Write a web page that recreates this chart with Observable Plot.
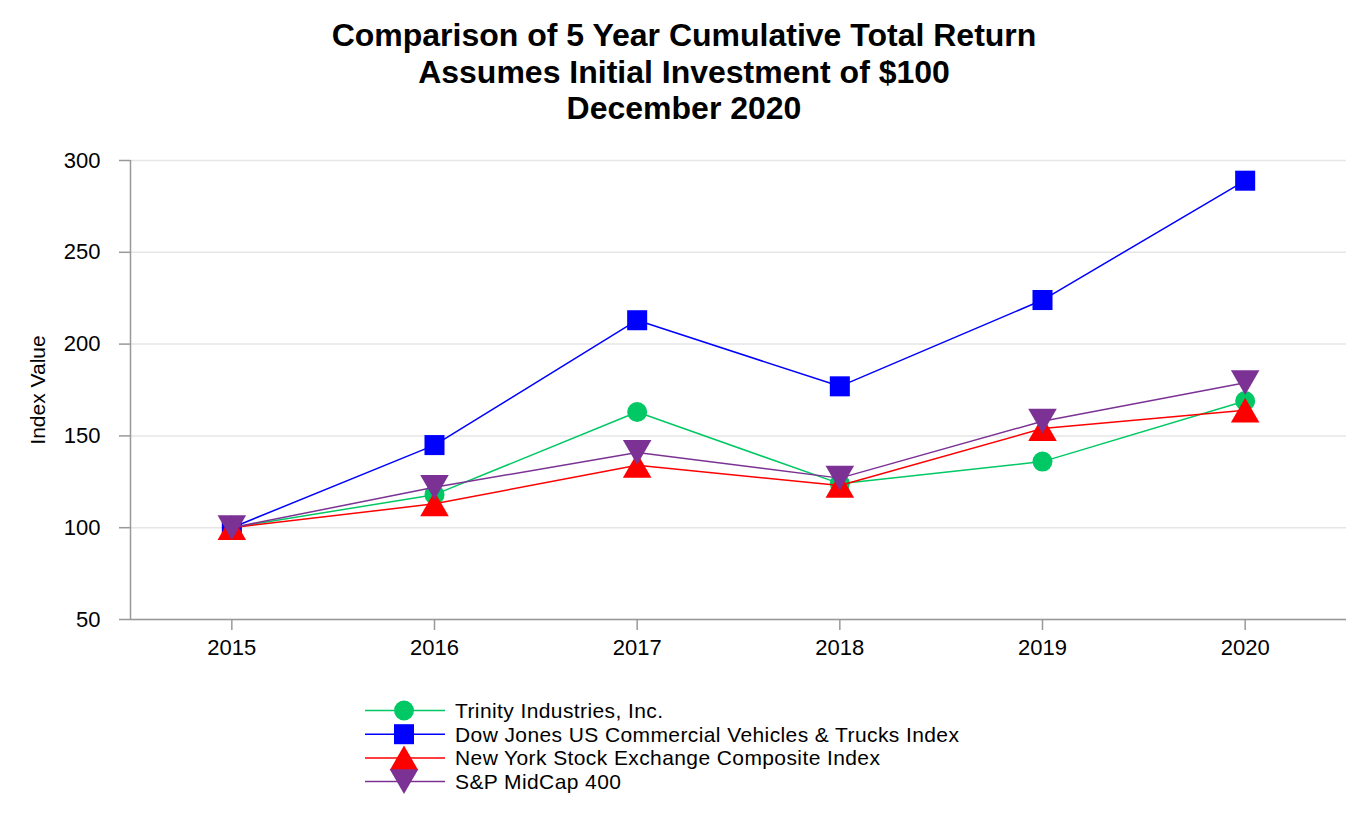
<!DOCTYPE html>
<html>
<head>
<meta charset="utf-8">
<script src="https://cdn.jsdelivr.net/npm/d3@7"></script>
<script src="https://cdn.jsdelivr.net/npm/@observablehq/plot@0.6"></script>
<style>
  html, body { margin: 0; padding: 0; background: #fff; }
  body { width: 1368px; height: 820px; overflow: hidden; font-family: "Liberation Sans", Arial, sans-serif; color: #000; }
  #title { height: 140px; box-sizing: border-box; padding-top: 17px; text-align: center; font-weight: bold; font-size: 32px; line-height: 36.5px; }
  #chart svg { display: block; }
  #legend svg { display: block; }
</style>
</head>
<body>
<div id="title"></div>
<div id="chart"></div>
<div id="legend"></div>
<script>
// ---------- data ----------
const titleLines = ["Comparison of 5 Year Cumulative Total Return", "Assumes Initial Investment of $100", "December 2020"];
const years = [2015, 2016, 2017, 2018, 2019, 2020];
const seriesNames = [
  "Trinity Industries, Inc.",
  "Dow Jones US Commercial Vehicles & Trucks Index",
  "New York Stock Exchange Composite Index",
  "S&P MidCap 400"
];
const trinity  = [100, 118, 163, 124, 136, 169];
const dowJones = [100, 145, 213, 177, 224, 289];
const nyse     = [100, 113, 134, 123, 154, 164];
const spMidcap = [100, 122, 141, 127, 158, 179];
const yTicks = [50, 100, 150, 200, 250, 300];
const yLabel = "Index Value";

// ---------- styles ----------
const colors = ["#00C864", "#0000FF", "#FF0000", "#7B3294"];
const sqrt3 = Math.sqrt(3);
const triUp = {
  draw(ctx, size) {
    const s = Math.sqrt(size * 4 / sqrt3); // side
    const h = s * sqrt3 / 2;
    ctx.moveTo(0, -h / 2); ctx.lineTo(s / 2, h / 2); ctx.lineTo(-s / 2, h / 2); ctx.closePath();
  }
};
const triDown = {
  draw(ctx, size) {
    const s = Math.sqrt(size * 4 / sqrt3);
    const h = s * sqrt3 / 2;
    ctx.moveTo(0, h / 2); ctx.lineTo(s / 2, -h / 2); ctx.lineTo(-s / 2, -h / 2); ctx.closePath();
  }
};
const symbols = [d3.symbolCircle, d3.symbolSquare, triUp, triDown];
const radii = [10, 11.3, 10.6, 10.6];

document.getElementById("title").innerHTML = titleLines.map(t => `<div>${t.replace(/&/g, "&amp;")}</div>`).join("");

const valuesBySeries = [trinity, dowJones, nyse, spMidcap];
const data = [];
valuesBySeries.forEach((vals, i) => years.forEach((yr, j) => data.push({series: seriesNames[i], idx: i, year: yr, value: vals[j]})));

const seriesMarks = [];
seriesNames.forEach((name, i) => {
  const rows = data.filter(d => d.idx === i);
  seriesMarks.push(Plot.line(rows, {x: "year", y: "value", stroke: colors[i], strokeWidth: 1.5}));
  seriesMarks.push(Plot.dot(rows, {x: "year", y: "value", fill: colors[i], symbol: symbols[i], r: radii[i], stroke: "none"}));
});

const chart = Plot.plot({
  width: 1368,
  height: 530,
  marginTop: 20,
  marginBottom: 51,
  marginLeft: 130,
  marginRight: 22,
  style: {fontFamily: "'Liberation Sans', Arial, sans-serif", fontSize: "22px", color: "#000", background: "#fff"},
  x: {domain: [2014.5, 2020.5], axis: null},
  y: {domain: [50, 300], axis: null},
  marks: [
    Plot.gridY(yTicks, {stroke: "#e6e6e6", strokeOpacity: 1, strokeWidth: 1.5}),
    Plot.ruleX([2014.5], {stroke: "#999", strokeWidth: 1.5}),
    Plot.ruleY([50], {stroke: "#999", strokeWidth: 1.5}),
    Plot.axisY(yTicks, {tickSize: 11, tickPadding: 19, stroke: "#999", strokeWidth: 1.5, fill: "#000", fontSize: 22, tickFormat: d => String(d), label: null}),
    Plot.axisX(years, {tickSize: 11, tickPadding: 9, stroke: "#999", strokeWidth: 1.5, fill: "#000", fontSize: 22, tickFormat: d => String(d), label: null}),
    Plot.text([yLabel], {frameAnchor: "left", textAnchor: "middle", rotate: -90, dx: -92, fontSize: 21, fill: "#000"}),
    ...seriesMarks
  ]
});
document.getElementById("chart").appendChild(chart);

// ---------- legend ----------
const lg = d3.select("#legend").append("svg").attr("width", 1368).attr("height", 150)
  .style("font-family", "'Liberation Sans', Arial, sans-serif");
const rowY = [40.5, 64.2, 87.9, 111.6];
seriesNames.forEach((name, i) => {
  const g = lg.append("g").attr("transform", `translate(0,${rowY[i]})`);
  g.append("line").attr("x1", 365).attr("x2", 445).attr("y1", 0).attr("y2", 0).attr("stroke", colors[i]).attr("stroke-width", 1.5);
  g.append("path").attr("transform", "translate(404,0)")
    .attr("d", d3.symbol(symbols[i], Math.PI * radii[i] * radii[i])()).attr("fill", colors[i]);
  g.append("text").attr("x", 455).attr("y", 0).attr("dy", "0.35em").attr("font-size", 21)
    .attr("letter-spacing", 0.4).attr("fill", "#000").text(name);
});
</script>
</body>
</html>
